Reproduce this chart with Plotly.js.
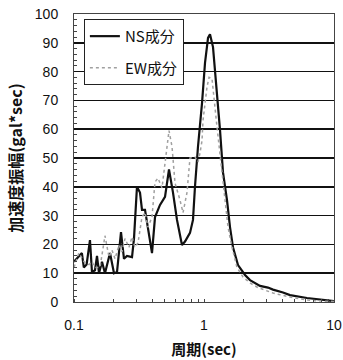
<!DOCTYPE html>
<html>
<head>
<meta charset="utf-8">
<script src="https://cdn.plot.ly/plotly-3.0.1.min.js"></script>
<style>
  html, body { margin: 0; padding: 0; background: #fff; }
  #chart { width: 343px; height: 360px; }
</style>
</head>
<body>
<div id="chart"></div>
<script>
// Period (sec) and amplitude for the NS component
const nsPeriod = [0.100, 0.109, 0.115, 0.119, 0.125, 0.1327, 0.1375, 0.145, 0.1503, 0.1557,
  0.1642, 0.1731, 0.1892, 0.2031, 0.2142, 0.2299, 0.2424, 0.2556, 0.2794, 0.2894,
  0.3051, 0.3218, 0.3335, 0.3517, 0.3709, 0.3981, 0.420, 0.4587, 0.5012, 0.538,
  0.5775, 0.6198, 0.6771, 0.7142, 0.7803, 0.8228, 0.8524, 0.8992, 0.9652, 1.018,
  1.074, 1.112, 1.173, 1.259, 1.328, 1.400, 1.503, 1.585, 1.671, 1.826,
  1.995, 2.068, 2.259, 2.467, 2.697, 3.106, 3.395, 4.053, 4.587, 6.198, 8.228, 10.0];
const nsAmp = [14, 16, 17, 12, 13, 21.5, 10.4, 11, 16, 10,
  14, 10, 17, 10, 10.4, 24.3, 15, 16, 15.6, 22,
  40, 38, 32, 32, 25, 17, 29.5, 33.7, 36.5, 46,
  38, 28.5, 19.8, 21, 24, 28.5, 40, 54, 69, 83,
  91.7, 93, 88.5, 72.6, 59.7, 45, 35.4, 26, 19, 12.8,
  10.4, 9.4, 7.6, 6.6, 5.6, 5.0, 4.3, 3.3, 2.4, 1.4, 0.6, 0.3];

// Period (sec) and amplitude for the EW component
const ewPeriod = [0.100, 0.109, 0.1194, 0.1304, 0.1375, 0.145, 0.1585, 0.1731, 0.1859, 0.196,
  0.2068, 0.2219, 0.234, 0.2467, 0.2649, 0.2794, 0.2945, 0.3106, 0.3335, 0.3517,
  0.3709, 0.3981, 0.420, 0.443, 0.4752, 0.5012, 0.538, 0.5674, 0.5984, 0.6538,
  0.6896, 0.7398, 0.7803, 0.8524, 0.8992, 0.9315, 0.9652, 0.9824, 1.055, 1.093,
  1.132, 1.152, 1.259, 1.376, 1.451, 1.530, 1.642, 1.794, 1.995, 2.259,
  2.603, 3.395, 4.587, 6.198, 8.228, 10.0];
const ewAmp = [12, 17, 14, 13, 14, 12, 12, 23, 15.6, 18,
  15, 19.8, 17.4, 22, 19, 22.6, 19, 20.5, 29.5, 31,
  26, 29.5, 41.7, 43, 39.6, 48, 59.5, 54, 41.3, 35.4,
  31, 38, 50, 50.3, 48.6, 51.7, 56, 63, 74.7, 78,
  77.8, 77.6, 60.8, 45.8, 35.4, 26, 19, 12, 8.7, 6.6,
  5.0, 3.1, 1.7, 0.7, 0.3, 0.2];

const seriesNames = ['NS成分', 'EW成分'];
const xTickVals = [0.1, 1, 10];
const xTickText = ['0.1', '1', '10'];
const xTitle = '周期(sec)';
const yTitle = '加速度振幅(gal*sec)';

const cjk = '"Noto Sans CJK JP", "Noto Sans", sans-serif';
const num = '"Liberation Sans", Arial, sans-serif';

const traces = [
  {
    x: nsPeriod, y: nsAmp, name: seriesNames[0], type: 'scatter', mode: 'lines',
    legendgroup: 'ns',
    line: { color: '#111111', width: 2.2 }
  },
  {
    x: ewPeriod, y: ewAmp, name: seriesNames[1], type: 'scatter', mode: 'lines',
    legendgroup: 'ew',
    line: { color: '#a0a0a0', width: 1.5, dash: 'dot' }
  }
];

const layout = {
  width: 343, height: 360,
  margin: { l: 74, r: 9, t: 14, b: 58 },
  paper_bgcolor: '#ffffff', plot_bgcolor: '#ffffff',
  showlegend: true,
  legend: {
    x: 0.038, y: 0.983, xanchor: 'left', yanchor: 'top',
    bgcolor: '#ffffff', bordercolor: '#222222', borderwidth: 1,
    traceorder: 'grouped', tracegroupgap: 9,
    entrywidth: 62,
    font: { family: cjk, size: 15, color: '#111' }
  },
  xaxis: {
    type: 'log', range: [-1, 1],
    tickvals: xTickVals, ticktext: xTickText,
    ticks: '', showgrid: false, zeroline: false,
    showline: true, mirror: true, linecolor: '#444', linewidth: 1,
    ticklabelstandoff: 10,
    tickfont: { family: num, size: 14, color: '#111' },
    minor: { dtick: 'D1', ticks: 'inside', ticklen: 3, tickcolor: '#444', showgrid: false },
    title: { text: xTitle, font: { family: cjk, size: 15, color: '#111', weight: 'bold' }, standoff: 12 }
  },
  yaxis: {
    range: [0, 100], dtick: 10,
    ticks: '', zeroline: false,
    showgrid: true, gridcolor: '#111111', gridwidth: 1.6,
    showline: true, mirror: true, linecolor: '#444', linewidth: 1,
    ticklabelstandoff: 12,
    tickfont: { family: num, size: 14, color: '#111' },
    minor: { dtick: 2, ticks: 'inside', ticklen: 3, tickcolor: '#444', showgrid: false },
    title: { text: yTitle, font: { family: cjk, size: 16, color: '#111', weight: 'bold' }, standoff: 8 }
  }
};

Plotly.newPlot('chart', traces, layout, { staticPlot: true, displayModeBar: false });
</script>
</body>
</html>
